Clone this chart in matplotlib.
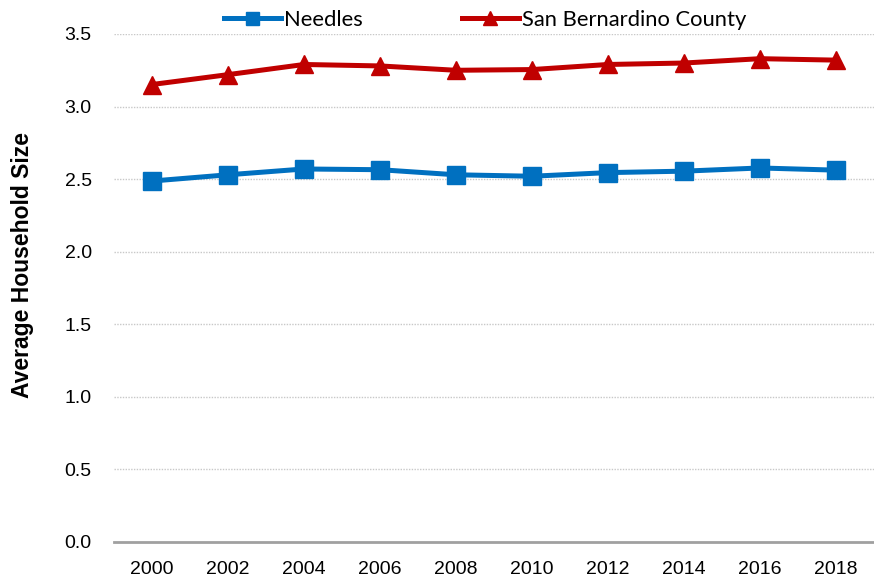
import matplotlib
matplotlib.use("Agg")
import matplotlib.pyplot as plt
from matplotlib import font_manager

years = ["2000", "2002", "2004", "2006", "2008", "2010", "2012", "2014", "2016", "2018"]
needles = [2.487, 2.53, 2.57, 2.565, 2.53, 2.52, 2.545, 2.555, 2.577, 2.562]
san_bernardino = [3.152, 3.22, 3.29, 3.28, 3.25, 3.255, 3.29, 3.30, 3.33, 3.32]
yticks = [0.0, 0.5, 1.0, 1.5, 2.0, 2.5, 3.0, 3.5]

names = {f.name for f in font_manager.fontManager.ttflist}
narrow = "Liberation Sans Narrow" if "Liberation Sans Narrow" in names else "Liberation Sans"
tick_size = 16 if narrow == "Liberation Sans Narrow" else 14

fig = plt.figure(figsize=(8.74, 5.84), dpi=100)
ax = fig.add_axes([114/874, 1 - 542/584, 760/874, (542 - 34)/584])

x = list(range(len(years)))
ax.plot(x, needles, color="#0070C0", lw=3.6, marker="s", ms=13, label="Needles", zorder=3)
ax.plot(x, san_bernardino, color="#C00000", lw=3.6, marker="^", ms=13.5, label="San Bernardino County", zorder=3)

ax.set_xlim(-0.5, len(years) - 0.5)
ax.set_ylim(0, 3.5)
ax.set_yticks(yticks)
ax.set_yticklabels([f"{v:.1f}" for v in yticks], fontfamily=narrow, fontsize=tick_size)
ax.set_xticks(x)
ax.set_xticklabels(years, fontfamily=narrow, fontsize=tick_size)
ax.tick_params(axis="x", length=0, pad=14)
ax.tick_params(axis="y", length=0, pad=16)

for v in yticks[1:]:
    ax.axhline(v, color="#C8C8C8", lw=1, ls=(0, (1, 1)), zorder=1)
for s in ["top", "right", "left"]:
    ax.spines[s].set_visible(False)
ax.spines["bottom"].set_color("#A0A0A0")
ax.spines["bottom"].set_linewidth(2)

ax.set_ylabel("Average Household Size", fontfamily="Liberation Sans", fontweight="bold", fontsize=16.5)
ax.yaxis.set_label_coords(-(114 - 34) / 760, (542 - 265) / 508)

leg = ax.legend(loc="center", bbox_to_anchor=(0.5 - 9/760, 1.0 + 14/508), ncol=2, frameon=False,
                prop={"family": "Lato", "size": 15.8}, handlelength=2.6, handletextpad=0.15,
                columnspacing=4.5, markerscale=0.72, borderpad=0, borderaxespad=0)

fig.savefig("out.png", dpi=100)
